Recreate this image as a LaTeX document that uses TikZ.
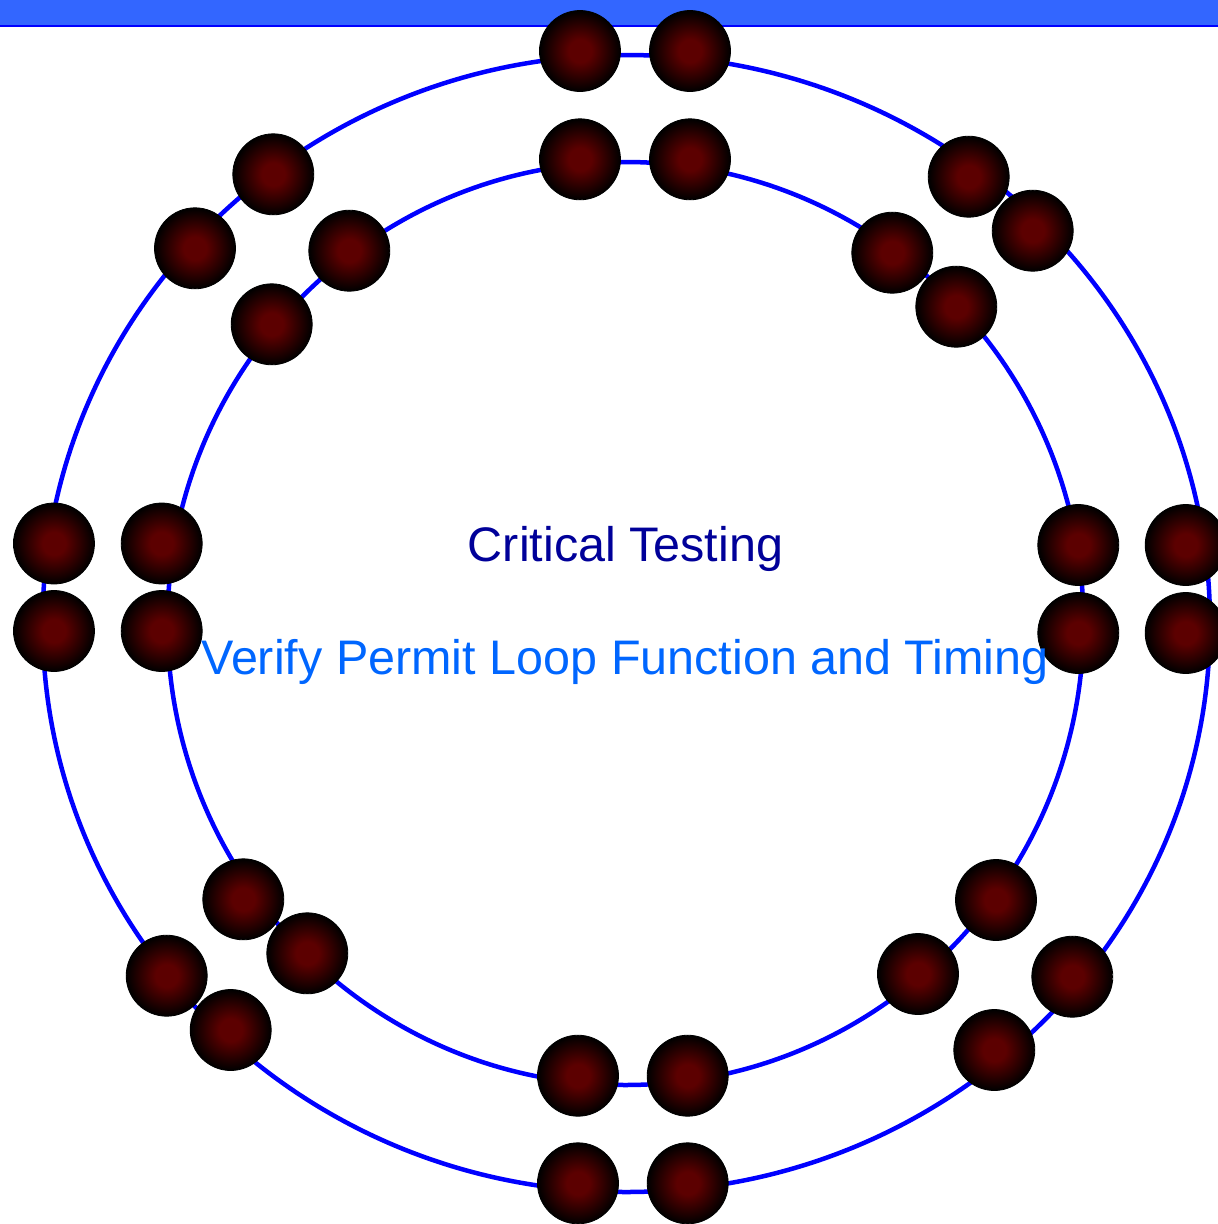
\documentclass[tikz,border=0pt]{standalone}
\usepackage{fontspec}
\setmainfont{Liberation Sans}
\definecolor{barfill}{HTML}{3366FF}
\definecolor{ringblue}{HTML}{0000FF}
\definecolor{ballred}{RGB}{92,0,0}
\definecolor{titlenavy}{HTML}{000099}
\definecolor{subblue}{HTML}{0066FF}
% red core fading to a black rim
\pgfdeclareradialshading{ballshade}{\pgfpoint{0bp}{0bp}}{%
  color(0bp)=(ballred); color(7bp)=(ballred); color(25bp)=(black); color(50bp)=(black)}
\tikzset{
  ring/.style={draw=ringblue, line width=4.5pt},
  ball/.style={circle, minimum size=81pt, inner sep=0pt, draw=black, line width=0.8pt,
               shading=ballshade},
  caption/.style={anchor=base, inner sep=0pt, font=\fontsize{48.5}{58}\selectfont}
}
\begin{document}
\begin{tikzpicture}[x=1pt, y=-1pt]
  \useasboundingbox (0,0) rectangle (1218,1224);
  % header band
  \fill[barfill] (0,0) rectangle (1218,25);
  \draw[ringblue, line width=2pt] (0,26) -- (1218,26);
  % the two loops
  \draw[ring] (626.3,623.5) ellipse [x radius=583.7pt, y radius=568.5pt];
  \draw[ring] (625.5,623.5) ellipse [x radius=458pt, y radius=461.5pt];
  % top pairs
  \node[ball] (to1) at (580,51) {};
  \node[ball] (to2) at (690,51) {};
  \node[ball] (ti1) at (580,159.3) {};
  \node[ball] (ti2) at (690,159.3) {};
  % left pairs
  \node[ball] (lo1) at (54,543.5) {};
  \node[ball] (lo2) at (54,631) {};
  \node[ball] (li1) at (161.7,543.5) {};
  \node[ball] (li2) at (161.7,631) {};
  % right pairs
  \node[ball] (ri1) at (1078.3,545) {};
  \node[ball] (ri2) at (1078.3,633) {};
  \node[ball] (ro1) at (1185.7,545) {};
  \node[ball] (ro2) at (1185.7,633) {};
  % bottom pairs
  \node[ball] (bi1) at (578,1075.7) {};
  \node[ball] (bi2) at (687.7,1075.7) {};
  \node[ball] (bo1) at (578,1183.3) {};
  \node[ball] (bo2) at (687.7,1183.3) {};
  % upper left pairs
  \node[ball] (tlo1) at (273.3,174.3) {};
  \node[ball] (tlo2) at (195,248.3) {};
  \node[ball] (tli1) at (349.3,250.7) {};
  \node[ball] (tli2) at (271.7,324.3) {};
  % upper right pairs
  \node[ball] (tro1) at (968.7,176.7) {};
  \node[ball] (tro2) at (1032.7,230.7) {};
  \node[ball] (tri1) at (892.3,252.7) {};
  \node[ball] (tri2) at (956.3,306.7) {};
  % lower left pairs
  \node[ball] (bli1) at (243.3,899.3) {};
  \node[ball] (bli2) at (307.3,953.3) {};
  \node[ball] (blo1) at (166.7,975.7) {};
  \node[ball] (blo2) at (230.7,1030) {};
  % lower right pairs
  \node[ball] (bri1) at (996,900) {};
  \node[ball] (bri2) at (918,974) {};
  \node[ball] (bro1) at (1072.3,976.7) {};
  \node[ball] (bro2) at (994.3,1050) {};
  % captions
  \node[caption, text=titlenavy] (title) at (625.5,561) {Critical Testing};
  \node[caption, text=subblue] (sub) at (625,674) {Verify Permit Loop Function and Timing};
\end{tikzpicture}
\end{document}
